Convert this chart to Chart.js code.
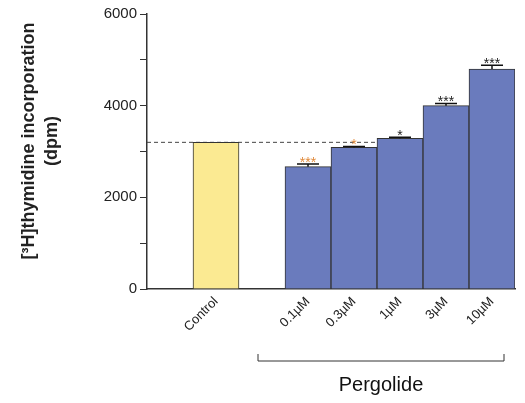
<!DOCTYPE html>
<html>
<head>
<meta charset="utf-8">
<script src="https://cdn.jsdelivr.net/npm/chart.js@4.4.1/dist/chart.umd.min.js"></script>
<style>
  html, body { margin: 0; padding: 0; background: #fff; }
  #wrap { width: 525px; height: 403px; position: relative; }
</style>
</head>
<body>
<div id="wrap"><canvas id="chart"></canvas></div>
<script>
// empty slots keep the gaps left of and after the control bar
const categories = ['', 'Control', '', '0.1\u00b5M', '0.3\u00b5M', '1\u00b5M', '3\u00b5M', '10\u00b5M'];
const values = [null, 3200, null, 2670, 3090, 3290, 4000, 4800];
const errors = [null, 0, null, 60, 20, 20, 50, 80];
const stars = ['', '', '', '***', '*', '*', '***', '***'];
const starColors = ['', '', '', '#e0893a', '#e0893a', '#222', '#222', '#222'];
const controlLevel = 3200;
const yTicks = [0, 2000, 4000, 6000];
const yTitle = ['[\u00b3H]thymidine incorporation', '(dpm)'];
const groupLabel = 'Pergolide';

const FONT = '"Liberation Sans", Arial, sans-serif';
const barColors = categories.map(c => c === 'Control' ? '#fbea92' : '#6a7bbd');

const extras = {
    id: 'extras',
    beforeDatasetsDraw(chart) {
        const { ctx, chartArea, scales } = chart;
        const y = scales.y.getPixelForValue(controlLevel);
        ctx.save();
        ctx.strokeStyle = '#444';
        ctx.lineWidth = 1;
        ctx.setLineDash([4, 3]);
        ctx.beginPath();
        ctx.moveTo(chartArea.left, y);
        ctx.lineTo(chartArea.right, y);
        ctx.stroke();
        ctx.restore();
    },
    afterDatasetsDraw(chart) {
        const { ctx, scales } = chart;
        ctx.save();
        for (let i = 0; i < values.length; i++) {
            if (values[i] == null) continue;
            const x = scales.x.getPixelForValue(i);
            const yTop = scales.y.getPixelForValue(values[i]);
            const yErr = scales.y.getPixelForValue(values[i] + errors[i]);
            if (errors[i] > 0) {
                ctx.strokeStyle = '#111';
                ctx.lineWidth = 1.5;
                ctx.beginPath();
                ctx.moveTo(x, yTop);
                ctx.lineTo(x, yErr);
                ctx.moveTo(x - 11, yErr);
                ctx.lineTo(x + 11, yErr);
                ctx.stroke();
            }
            if (stars[i]) {
                ctx.fillStyle = starColors[i];
                ctx.font = '14px ' + FONT;
                ctx.textAlign = 'center';
                ctx.textBaseline = 'alphabetic';
                ctx.fillText(stars[i], x, yErr + 3);
            }
        }
        ctx.restore();
    },
    afterDraw(chart) {
        const { ctx, scales } = chart;
        ctx.save();
        // y axis title, two lines
        ctx.fillStyle = '#222';
        ctx.font = 'bold 18px ' + FONT;
        ctx.textAlign = 'center';
        ctx.textBaseline = 'middle';
        ctx.translate(29, 141);
        ctx.rotate(-Math.PI / 2);
        ctx.fillText(yTitle[0], 0, 0);
        ctx.fillText(yTitle[1], 0, 23);
        ctx.restore();

        const x0 = scales.x.getPixelForValue(3) - 50;
        const x1 = scales.x.getPixelForValue(7) + 12;
        const yb = 361;
        ctx.save();
        ctx.strokeStyle = '#333';
        ctx.lineWidth = 1;
        ctx.beginPath();
        ctx.moveTo(x0, yb - 7);
        ctx.lineTo(x0, yb);
        ctx.lineTo(x1, yb);
        ctx.lineTo(x1, yb - 7);
        ctx.stroke();
        ctx.fillStyle = '#111';
        ctx.font = '20px ' + FONT;
        ctx.textAlign = 'center';
        ctx.textBaseline = 'middle';
        ctx.fillText(groupLabel, (x0 + x1) / 2, 385);
        ctx.restore();
    }
};

const ctx = document.getElementById('chart').getContext('2d');
new Chart(ctx, {
    type: 'bar',
    data: {
        labels: categories,
        datasets: [{
            data: values,
            backgroundColor: barColors,
            borderColor: '#333',
            borderWidth: 1,
            barPercentage: 1,
            categoryPercentage: 1
        }]
    },
    options: {
        responsive: true,
        maintainAspectRatio: false,
        animation: false,
        layout: { padding: { top: 14, right: 10, left: 0, bottom: 0 } },
        plugins: { legend: { display: false }, tooltip: { enabled: false } },
        scales: {
            x: {
                grid: { display: false, drawTicks: false },
                border: { color: '#333', width: 1.5 },
                ticks: {
                    maxRotation: 45,
                    minRotation: 45,
                    padding: 5,
                    color: '#222',
                    font: { size: 13, family: FONT }
                },
                afterFit: s => { s.height = 114; }
            },
            y: {
                min: 0,
                max: 6000,
                grid: { drawOnChartArea: false, tickLength: 7, color: '#333' },
                border: { color: '#333', width: 1.5 },
                ticks: {
                    stepSize: 1000,
                    padding: 3,
                    color: '#222',
                    font: { size: 15, family: FONT },
                    callback: v => yTicks.includes(v) ? String(v) : ''
                },
                afterFit: s => { s.width = 147; }
            }
        }
    },
    plugins: [extras]
});
</script>
</body>
</html>
